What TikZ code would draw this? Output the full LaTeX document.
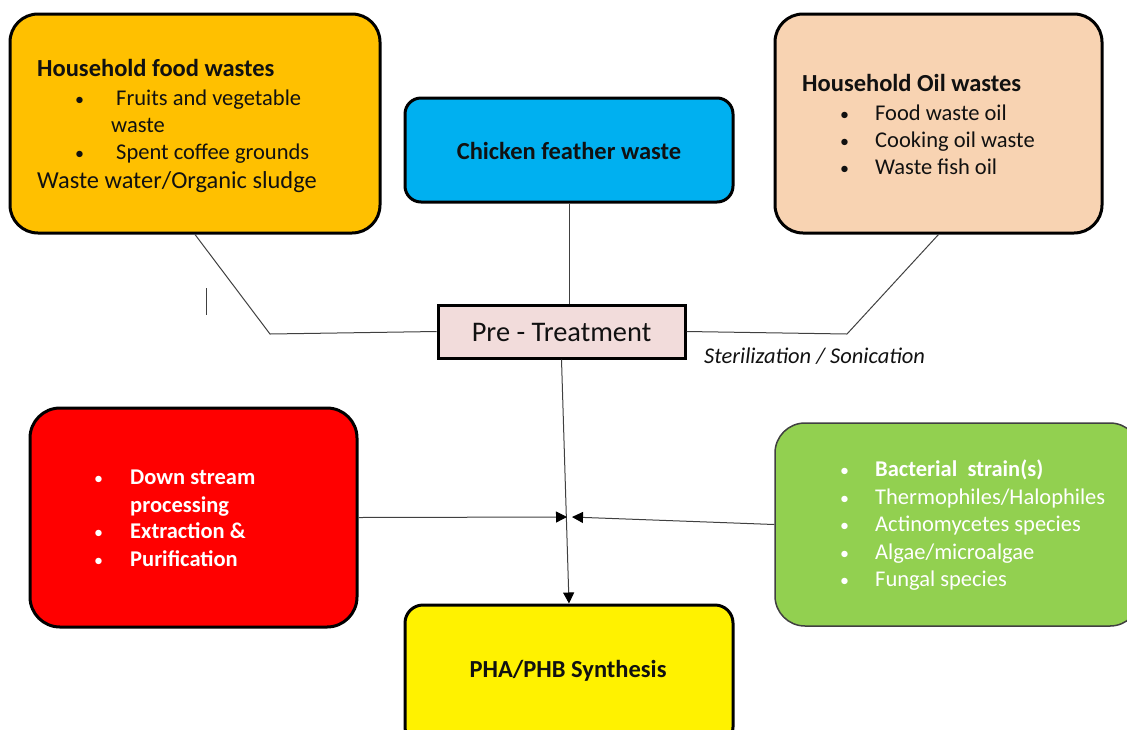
\documentclass[tikz,border=0pt]{standalone}
\usepackage{fontspec}
\setmainfont{Carlito}
\usetikzlibrary{arrows.meta,calc}
\definecolor{foodorange}{HTML}{FFC000}
\definecolor{featherblue}{HTML}{00B0F0}
\definecolor{oilpeach}{HTML}{F8D3B2}
\definecolor{prepink}{HTML}{F2DCDB}
\definecolor{strainsgreen}{HTML}{92D050}
\definecolor{linkgray}{HTML}{404040}
\definecolor{textblack}{HTML}{111111}
\tikzset{
  waste box/.style={draw=black,line width=3pt,rounded corners=28pt,inner sep=0pt},
  pre box/.style={draw=black,line width=3pt,fill=prepink,inner sep=0pt},
  strain box/.style={draw=linkgray,line width=1.5pt,rounded corners=30pt,fill=strainsgreen,inner sep=0pt},
  item/.style={anchor=west,inner sep=0pt,text height=17.5pt,text depth=2pt,font=\fontsize{22.5}{26}\selectfont,text=textblack},
  head/.style={item,font=\fontsize{24.5}{28}\selectfont\bfseries},
  dot/.style={item,font=\fontsize{18}{22}\selectfont},
  link/.style={linkgray,line width=1pt},
  feed/.style={link,-{Triangle[length=11pt,width=11pt,color=black]}},
}
\begin{document}
\begin{tikzpicture}[x=1pt,y=-1pt]
\useasboundingbox (0,0) rectangle (1127,729);
% source boxes
\node[waste box,fill=foodorange,minimum width=370,minimum height=219] (food) at (195,123.5) {};
\node[waste box,fill=featherblue,rounded corners=16pt,minimum width=328,minimum height=104] (feather) at (569,150) {};
\node[waste box,fill=oilpeach,minimum width=327,minimum height=219] (oil) at (938.5,123.5) {};
\node[pre box,minimum width=247,minimum height=53] (pre) at (561.5,331.5) {};
\node[waste box,fill=red,rounded corners=30pt,minimum width=327,minimum height=219] (dsp) at (193.5,517.5) {};
\node[strain box,minimum width=365,minimum height=203] (strain) at (957.5,524.5) {};
\node[waste box,fill=yellow,rounded corners=18pt,minimum width=328,minimum height=140] (pha) at (569,675) {};

% food wastes
\node[head] (food-h) at (37,69) {Household food wastes};
\node[dot] (food-b1) at (75,98) {•};
\node[item] (food-t1) at (116,98) {Fruits and vegetable};
\node[item] (food-t1b) at (111,125) {waste};
\node[dot] (food-b2) at (75,152) {•};
\node[item] (food-t2) at (116,152) {Spent coffee grounds};
\node[item,font=\fontsize{24.4}{28}\selectfont] (food-t3) at (37,181) {Waste water/Organic sludge};

% feather and oil
\node[head,anchor=center] (feather-t) at (569,152) {Chicken feather waste};
\node[head] (oil-h) at (802,84) {Household Oil wastes};
\foreach \y/\txt [count=\i] in {113/Food waste oil, 140/Cooking oil waste, 167/Waste fish oil} {
  \node[dot] (oil-b\i) at (840,\y) {•};
  \node[item] (oil-t\i) at (875,\y) {\txt};
}

% pre-treatment
\node[item,anchor=center,font=\fontsize{28.4}{32}\selectfont] (pre-t) at (561.5,334) {Pre - Treatment};
\node[item,font=\fontsize{22.5}{26}\selectfont\itshape] (steril) at (704,356) {Sterilization / Sonication};

% downstream
\foreach \y [count=\i] in {477, 531, 559} {
  \node[dot,text=white] (dsp-b\i) at (94,\y) {•};
}
\foreach \y/\txt [count=\i] in {477/Down stream, 505/processing, 531/Extraction \&, 559/Purification} {
  \node[head,font=\fontsize{22.5}{26}\selectfont\bfseries,text=white] (dsp-t\i) at (130,\y) {\txt};
}

% strains
\foreach \y/\txt [count=\i] in {469/{\textbf{Bacterial\ \ strain(s)}}, 497/{Thermophiles/Halophiles}, 524/{Actinomycetes species}, 552/{Algae/microalgae}, 579/{Fungal species}} {
  \node[dot,text=white] (str-b\i) at (840,\y) {•};
  \node[item,text=white] (str-t\i) at (875,\y) {\txt};
}

% product
\node[head,anchor=center] (pha-t) at (568,670) {PHA/PHB Synthesis};

% connectors
\coordinate (food-bend) at (270,334);
\coordinate (oil-bend) at (847,334);
\coordinate (meet-l) at (567,517);
\coordinate (meet-r) at (572,517);
\draw[link] (food.south) -- (food-bend) -- (pre.west);
\draw[link] (feather.south) -- (feather.south |- pre.north);
\draw[link] (oil.south) -- (oil-bend) -- (pre.east);
\draw[link] (206,288) -- (206,315);
\draw[feed] (pre.south) -- (pha.north);
\draw[feed] (dsp.east) -- (meet-l);
\draw[feed] (strain.west) -- (meet-r);
\end{tikzpicture}
\end{document}
